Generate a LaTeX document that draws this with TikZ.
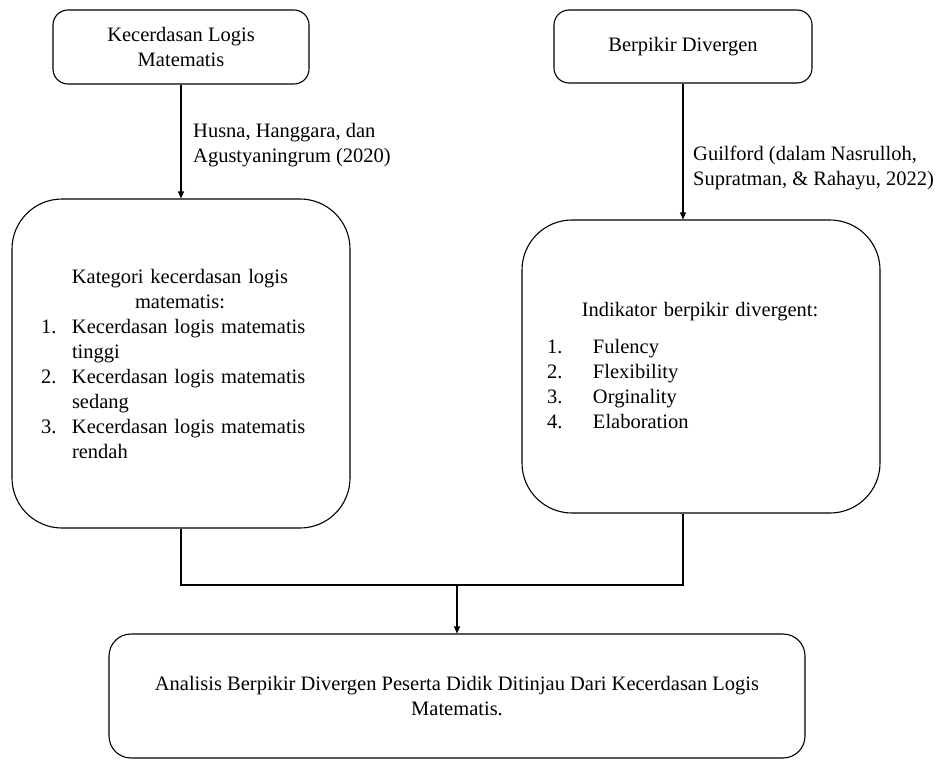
\documentclass[tikz,border=0pt]{standalone}
\usepackage{fontspec}
\setmainfont{Liberation Serif}
\usetikzlibrary{arrows.meta}
\begin{document}
\begin{tikzpicture}[x=1pt,y=-1pt,
  box/.style={draw, line width=1.1pt, inner sep=0pt},
  txt/.style={inner sep=0pt, font=\fontsize{20.5}{25}\selectfont},
  conn/.style={line width=1.1pt},
  arr/.style={conn, -{Triangle[length=7pt,width=6pt]}}]
\useasboundingbox (0,0) rectangle (941,760);
% top boxes
\node[box, txt, align=center, rounded corners=15pt, minimum width=256pt, minimum height=74pt] (b1) at (181,47) {Kecerdasan Logis\\Matematis};
\node[box, txt, align=center, rounded corners=15pt, minimum width=258pt, minimum height=73pt] (b2) at (683,46.5) {Berpikir Divergen};
% big boxes
\node[box, rounded corners=50pt, minimum width=338pt, minimum height=329pt] (b3) at (181,363.5) {};
\node[box, rounded corners=50pt, minimum width=358pt, minimum height=293pt] (b4) at (701,366.5) {};
% bottom box
\node[box, txt, align=center, rounded corners=22pt, minimum width=696pt, minimum height=124pt] (b5) at (457,696) {Analisis Berpikir Divergen Peserta Didik Ditinjau Dari Kecerdasan Logis\\Matematis.};
% box texts
\node[txt, align=left, text width=278pt] (t3) at (180,364) {%
\makebox[278pt][c]{Kategori kecerdasan logis}\\
\makebox[278pt][c]{matematis:}\\
\makebox[31pt][l]{1.}Kecerdasan logis matematis\\
\hspace*{31pt}tinggi\\
\makebox[31pt][l]{2.}Kecerdasan logis matematis\\
\hspace*{31pt}sedang\\
\makebox[31pt][l]{3.}Kecerdasan logis matematis\\
\hspace*{31pt}rendah};
\node[txt, align=left, text width=306pt] (t4) at (700,365.5) {%
\makebox[306pt][c]{Indikator berpikir divergent:}\\[12pt]
\makebox[46pt][l]{1.}Fulency\\
\makebox[46pt][l]{2.}Flexibility\\
\makebox[46pt][l]{3.}Orginality\\
\makebox[46pt][l]{4.}Elaboration};
% labels
\node[txt, align=left, anchor=west] (l1) at (193,145) {Husna, Hanggara, dan\\Agustyaningrum (2020)};
\node[txt, align=left, anchor=west] (l2) at (693,167.5) {Guilford (dalam Nasrulloh,\\Supratman, \& Rahayu, 2022)};
% connectors
\draw[arr] (b1.south) -- (b3.north);
\draw[arr] (b2.south) -- (b2.south |- b4.north);
\coordinate (m) at (457,585);
\draw[conn] (b3.south) |- (m) -| (b2.south |- b4.south);
\draw[arr] (m) -- (b5.north);
\end{tikzpicture}
\end{document}
